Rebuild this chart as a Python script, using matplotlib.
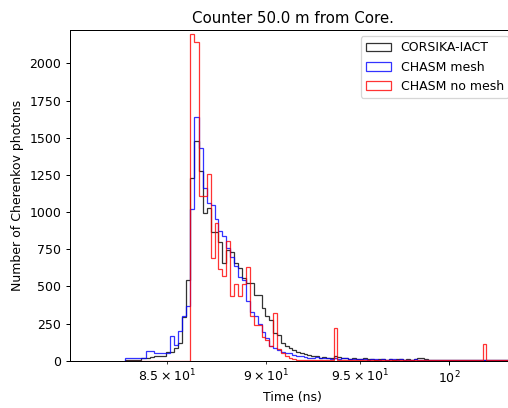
import numpy as np
import matplotlib
matplotlib.use('Agg')
import matplotlib.pyplot as plt

# time bins (ns)
bin_lo = 82.96
bin_hi = 103.96
n_bins = 105

corsika = [5, 5, 8, 5, 15, 20, 27, 34, 34, 34,
           60, 60, 83, 121, 296, 543, 1231, 1477, 1276, 991,
           1025, 868, 868, 800, 655, 744, 733, 655, 621, 554,
           520, 520, 442, 442, 352, 300, 274, 184, 173, 117,
           100, 83, 72, 60, 55, 45, 40, 30, 35, 20,
           25, 20, 15, 30, 25, 15, 20, 12, 15, 10,
           12, 15, 10, 12, 8, 10, 12, 8, 10, 8,
           12, 10, 8, 10, 8, 10, 15, 20, 12, 8,
           6, 8, 5, 8, 6, 5, 4, 6, 5, 4,
           5, 4, 3, 5, 4, 3, 4, 3, 3, 4,
           3, 3, 2, 3, 2]

chasm_mesh = [16, 16, 16, 16, 16, 65, 65, 50, 50, 50,
              55, 166, 105, 200, 300, 368, 1020, 1641, 1428, 1159,
              1060, 1047, 950, 870, 840, 760, 700, 640, 565, 543,
              400, 330, 300, 250, 195, 151, 100, 87, 70, 60,
              55, 50, 40, 35, 30, 28, 20, 20, 25, 15,
              20, 15, 12, 15, 12, 20, 15, 10, 12, 10,
              12, 10, 8, 12, 10, 8, 10, 8, 10, 12,
              8, 10, 8, 6, 8, 10, 8, 6, 8, 6,
              5, 8, 6, 5, 8, 5, 4, 6, 5, 8,
              5, 4, 6, 5, 4, 6, 5, 4, 6, 5,
              4, 5, 6, 4, 5]

chasm_nomesh = [0, 0, 0, 0, 0, 0, 0, 0, 0, 0,
                0, 0, 0, 0, 0, 0, 2197, 2145, 1108, 1108,
                1256, 689, 924, 620, 570, 807, 435, 514, 435, 514,
                632, 300, 240, 240, 160, 139, 100, 320, 80, 50,
                30, 20, 12, 8, 6, 5, 5, 4, 4, 3,
                3, 3, 3, 218, 4, 3, 4, 3, 3, 4,
                3, 3, 4, 3, 3, 3, 4, 3, 3, 3,
                3, 4, 3, 3, 3, 3, 4, 3, 3, 3,
                3, 3, 4, 3, 3, 3, 3, 3, 4, 3,
                3, 3, 3, 3, 3, 112, 3, 3, 3, 3,
                3, 3, 3, 3, 3]

edges = np.linspace(bin_lo, bin_hi, n_bins + 1)
centers = 0.5 * (edges[:-1] + edges[1:])

fig = plt.figure(figsize=(508 / 90, 408 / 90), dpi=90)
ax = fig.add_axes([0.1378, 0.1159, 0.876, 0.8105])

ax.hist(centers, bins=edges, weights=corsika, histtype='step', color='black', alpha=0.8, label='CORSIKA-IACT')
ax.hist(centers, bins=edges, weights=chasm_mesh, histtype='step', color='blue', alpha=0.8, label='CHASM mesh')
ax.hist(centers, bins=edges, weights=chasm_nomesh, histtype='step', color='red', alpha=0.8, label='CHASM no mesh')

ax.set_xscale('log')
ax.set_xlim(80.39, 103.85)
ax.set_ylim(0, 2224)
ax.set_title('Counter 50.0 m from Core.')
ax.set_xlabel('Time (ns)')
ax.set_ylabel('Number of Cherenkov photons')
ax.legend(loc='upper right')

fig.savefig('out.png', dpi=90)
